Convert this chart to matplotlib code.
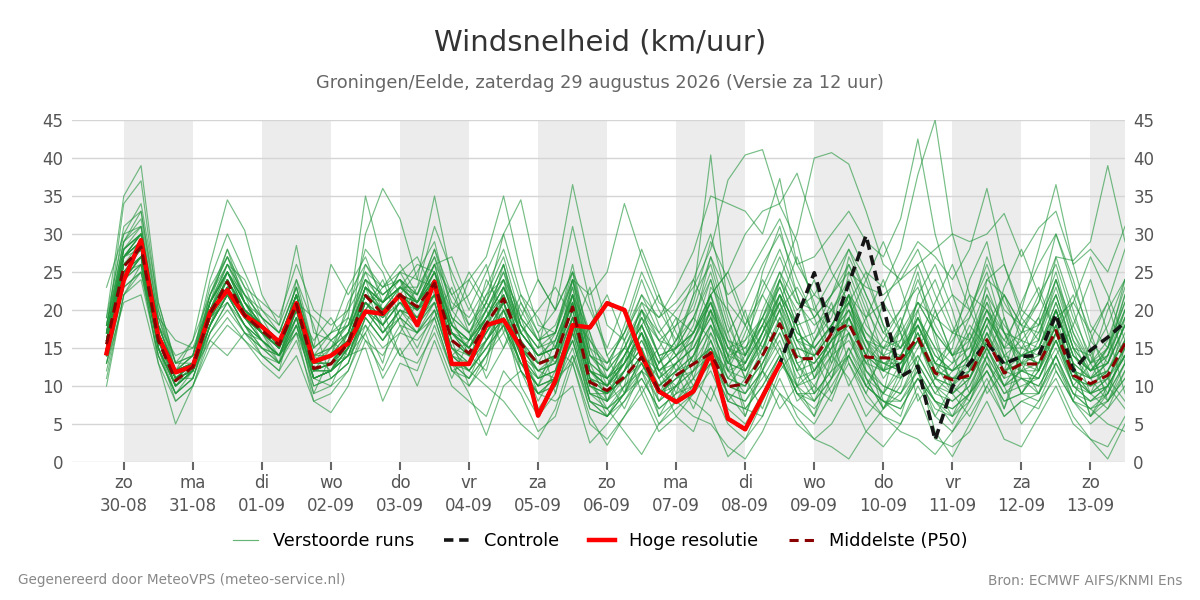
import numpy as np
import matplotlib
matplotlib.use("Agg")
import matplotlib.pyplot as plt
from matplotlib.lines import Line2D

# ---------------- data ----------------
# time axis: hours since 29-08 00:00, 6-hourly from 29-08 18:00 to 13-09 12:00
hours = np.arange(18, 18 + 6 * 60, 6)

day_names = ["zo", "ma", "di", "wo", "do", "vr", "za", "zo", "ma", "di", "wo", "do", "vr", "za", "zo"]
day_dates = ["30-08", "31-08", "01-09", "02-09", "03-09", "04-09", "05-09", "06-09",
             "07-09", "08-09", "09-09", "10-09", "11-09", "12-09", "13-09"]
shaded_days = [0, 2, 4, 6, 8, 10, 12, 14]

hres = [14.3, 23.9, 29.2, 16.5, 11.8, 12.6, 19.7, 22.6, 19.3, 17.8,
        15.8, 20.9, 13.2, 14.0, 15.6, 19.8, 19.5, 22.0, 18.0, 23.7,
        12.9, 12.9, 18.0, 18.7, 15.1, 6.1, 10.7, 18.0, 17.7, 20.9,
        20.0, 14.0, 9.3, 7.9, 9.3, 14.3, 5.7, 4.3, 8.6, 12.9]

control = [14.3, 23.9, 29.2, 16.5, 11.8, 12.6, 19.7, 22.6, 19.3, 17.8,
           15.8, 20.9, 13.2, 14.0, 15.6, 19.8, 19.5, 22.0, 18.0, 23.7,
           12.9, 12.9, 18.0, 18.7, 15.1, 6.1, 10.7, 18.0, 17.7, 20.9,
           20.0, 14.0, 9.3, 7.9, 9.3, 14.3, 5.7, 4.3, 8.6, 12.9,
           19.0, 24.9, 17.1, 23.5, 29.8, 20.5, 11.2, 12.6, 2.9, 9.9,
           13.0, 15.7, 12.9, 13.9, 14.0, 19.4, 12.0, 14.7, 16.4, 18.4]

median = [15.5, 25.7, 28.3, 16.0, 10.7, 12.5, 19.5, 23.7, 19.3, 17.3,
          15.4, 20.8, 12.3, 12.9, 15.6, 21.9, 19.5, 22.0, 20.4, 23.5,
          16.0, 14.3, 18.2, 21.5, 15.6, 12.9, 13.8, 20.4, 10.5, 9.4,
          11.2, 13.8, 9.4, 11.4, 12.9, 14.3, 9.9, 10.3, 14.0, 18.2,
          13.6, 13.6, 16.9, 18.2, 13.8, 13.7, 13.6, 16.4, 11.7, 10.8,
          11.4, 16.1, 11.7, 12.9, 12.9, 17.3, 11.4, 10.3, 11.4, 15.6]

m01 = [23, 30, 31, 18, 12, 13, 21, 25, 21, 18, 16, 22, 13, 15, 17, 24, 22, 24, 21, 26,
       18, 15, 20, 25, 17, 14, 15, 23, 12, 10, 13, 17, 8, 12, 16, 22, 12, 9, 14, 24,
       18, 11, 15, 22, 12, 9, 18, 25, 16, 10, 8, 14, 19, 11, 9, 17, 13, 6, 10, 19]
m02 = [10, 22, 25, 14, 9, 11, 18, 22, 18, 15, 14, 18, 10, 11, 13, 19, 16, 19, 17, 20,
       13, 12, 15, 18, 13, 10, 11, 17, 8, 7, 9, 14, 12, 8, 11, 18, 14, 7, 6, 12,
       15, 9, 12, 19, 15, 8, 6, 13, 20, 14, 9, 12, 7, 13, 18, 22, 15, 9, 7, 12]
m03 = [19, 35, 39, 21, 13, 14, 23, 27, 22, 19, 17, 23, 14, 14, 17, 23, 21, 23, 22, 27,
       19, 17, 22, 27, 19, 16, 17, 25, 14, 12, 15, 20, 16, 18, 20, 27, 22, 24, 28, 32,
       26, 27, 30, 33, 29, 27, 32, 42.5, 30, 22, 20, 26, 20, 18, 17, 22, 15, 14, 18, 24]
m04 = [17, 34, 37, 20, 12, 13, 22, 28, 23, 18, 15, 22, 13, 14, 16, 23, 20, 22, 20, 25,
       17, 14, 12, 20, 15, 9, 11, 24, 13, 8, 12, 15, 6, 10, 14, 20, 8, 11, 17, 21,
       13, 10, 8, 14, 19, 24, 17, 12, 8, 5, 9, 16, 22, 18, 12, 20, 14, 11, 15, 21]
m05 = [13, 21, 22, 13, 8, 10, 16, 19, 16, 14, 12, 16, 9, 10, 12, 18, 15, 17, 16, 19,
       12, 11, 14, 18, 12, 9, 10, 15, 7, 6, 8, 12, 10, 13, 9, 16, 11, 14, 19, 15,
       9, 6, 11, 17, 13, 16, 20, 23, 17, 9, 6, 10, 14, 9, 12, 19, 21, 17, 11, 8]
m06 = [14, 24, 26, 13, 5, 10, 17, 21, 17, 15, 13, 19, 11, 12, 14, 20, 18, 21, 18, 22,
       15, 13, 17, 20, 14, 11, 12, 18, 9, 8, 14, 18, 13, 16, 22, 26, 18, 13, 20, 25,
       19, 14, 9, 15, 11, 7, 10, 18, 13, 16, 20, 25, 17, 12, 16, 24, 18, 13, 9, 15]
m07 = [16, 27, 29, 19, 16, 15, 21, 25, 20, 18, 16, 21, 13, 14, 16, 22, 20, 22, 21, 24,
       17, 15, 19, 22, 17, 14, 15, 21, 11, 10, 16, 22, 17, 14, 10, 15, 12, 17, 23, 28,
       22, 16, 19, 26, 21, 14, 12, 20, 24, 18, 13, 19, 15, 21, 26, 30, 24, 16, 13, 20]
m08 = [18, 29, 32, 19, 13, 16, 26, 34.5, 30.5, 22, 18, 24, 15, 17, 18, 25, 23, 24, 22, 28,
       20, 17, 21, 26, 18, 15, 16, 22, 13, 11, 13, 17, 12, 14, 16, 20, 15, 16, 19, 23,
       17, 15, 18, 22, 19, 21, 25, 29, 27, 24, 28, 36, 26, 20, 18, 24, 17, 13, 15, 22]
m09 = [15, 24, 27, 15, 10, 12, 16, 14, 17, 16, 14, 17, 11, 12, 15, 20, 17, 20, 19, 21,
       14, 13, 16, 19, 14, 12, 13, 18, 10, 9, 11, 13, 9, 11, 13, 15, 10, 10, 13, 17,
       12, 13, 16, 18, 14, 12, 11, 14, 10, 9, 11, 15, 10, 12, 11, 16, 10, 9, 11, 14]
m10 = [17, 28, 30, 17, 11, 13, 21, 26, 22, 20, 18, 28.5, 17, 16, 18, 24, 21, 23, 23, 27,
       21, 19, 23, 28, 21, 16, 18, 24, 15, 13, 17, 22, 19, 21, 24, 30, 21, 18, 22, 27,
       21, 18, 20, 23, 16, 12, 14, 19, 15, 13, 15, 20, 16, 14, 13, 18, 12, 11, 13, 18]
m11 = [16, 26, 28, 17, 12, 13, 20, 24, 20, 17, 16, 21, 15, 26, 22, 26, 23, 25, 21, 24,
       17, 15, 18, 21, 16, 12, 14, 19, 10, 8, 10, 12, 8, 10, 12, 14, 9, 8, 12, 16,
       10, 11, 14, 16, 12, 10, 9, 12, 8, 7, 9, 13, 9, 11, 10, 14, 8, 7, 9, 13]
m12 = [14, 25, 27, 15, 9, 11, 18, 22, 18, 16, 13, 17, 8, 6.5, 10, 16, 14, 18, 17, 21,
       14, 12, 16, 20, 15, 13, 14, 22, 12, 11, 14, 18, 13, 16, 19, 24, 17, 21, 26, 30,
       24, 19, 22, 28, 24, 18, 15, 21, 17, 14, 16, 22, 18, 15, 14, 20, 14, 12, 15, 21]
m13 = [18, 28, 30, 17, 11, 13, 21, 26, 21, 18, 16, 22, 13, 14, 19, 35, 26, 22, 19, 24,
       17, 14, 18, 22, 16, 13, 14, 20, 11, 9, 12, 16, 11, 13, 15, 19, 14, 15, 19, 24,
       20, 22, 26, 30, 25, 23, 28, 37.8, 45, 30, 22, 20, 17, 14, 13, 18, 12, 10, 12, 17]
m14 = [16, 27, 29, 16, 11, 12, 19, 23, 19, 17, 15, 21, 12, 13, 16, 30, 36, 32, 24, 23,
       18, 16, 19, 21, 15, 12, 13, 19, 10, 9, 11, 14, 10, 12, 14, 18, 12, 13, 17, 22,
       16, 14, 17, 20, 16, 15, 17, 21, 19, 17, 19, 24, 22, 18, 21, 27, 26.5, 29, 39, 29]
m15 = [14, 24, 26, 15, 10, 12, 19, 22, 19, 16, 14, 18, 11, 12, 14, 15, 8, 13, 12, 18,
       12, 10, 14, 19, 13, 11, 12, 17, 9, 9, 12, 15, 9, 11, 13, 17, 11, 10, 15, 20,
       14, 13, 16, 19, 13, 12, 13, 17, 12, 11, 11, 17, 12, 13, 14, 19, 12, 11, 12, 16]
m16 = [15, 26, 28, 16, 11, 13, 20, 24, 20, 18, 16, 22, 13, 13, 17, 23, 21, 25, 24, 35,
       24, 18, 21, 26, 18, 14, 15, 22, 12, 10, 13, 17, 12, 14, 16, 21, 14, 13, 17, 22,
       16, 17, 22, 26, 20, 16, 15, 19, 14, 12, 14, 19, 13, 14, 15, 21, 14, 12, 13, 18]
m17 = [15, 25, 27, 16, 11, 12, 19, 23, 19, 17, 15, 20, 12, 12, 15, 21, 18, 21, 18, 21,
       13, 9, 3.5, 10, 12, 9, 11, 16, 8, 6, 9, 12, 6, 8, 6, 5, 2, 0.4, 4, 9,
       7, 5, 9, 13, 8, 6, 5, 10, 6, 4, 7, 11, 6, 8, 7, 12, 8, 5, 7, 10]
m18 = [16, 27, 29, 17, 11, 13, 20, 24, 20, 18, 16, 22, 13, 13, 16, 22, 20, 22, 21, 26,
       22, 24, 27, 35, 25, 18, 17, 24, 14, 11, 14, 18, 12, 14, 17, 22, 15, 13, 17, 21,
       15, 14, 17, 20, 14, 13, 12, 16, 11, 10, 13, 19, 16, 20, 28, 36.5, 26, 18, 15, 20]
m19 = [17, 27, 30, 18, 12, 13, 21, 25, 21, 18, 16, 21, 13, 14, 16, 22, 21, 23, 21, 25,
       18, 16, 21, 30, 34.5, 24, 20, 25, 16, 13, 15, 19, 14, 15, 17, 22, 16, 14, 18, 23,
       17, 15, 18, 22, 17, 14, 13, 17, 12, 11, 12, 17, 13, 12, 11, 16, 11, 9, 11, 15]
m20 = [14, 24, 27, 15, 10, 12, 18, 23, 19, 16, 14, 19, 11, 12, 14, 20, 18, 21, 19, 22,
       15, 12, 10, 8, 5, 3, 7, 14, 8, 6, 9, 13, 8, 10, 12, 16, 10, 9, 12, 17,
       11, 12, 15, 17, 11, 9, 8, 12, 4, 0.7, 5, 10, 6, 8, 9, 14, 9, 7, 8, 12]
m21 = [16, 27, 29, 17, 12, 13, 20, 25, 20, 18, 15, 21, 13, 14, 16, 22, 20, 23, 21, 24,
       17, 15, 19, 24, 18, 15, 24, 36.5, 26, 18, 16, 20, 14, 15, 17, 21, 15, 14, 19, 25,
       21, 20, 24, 28, 22, 17, 15, 18, 13, 11, 13, 18, 14, 16, 19, 25, 17, 12, 13, 18]
m22 = [15, 25, 27, 16, 11, 12, 19, 23, 19, 17, 15, 20, 12, 12, 15, 21, 19, 21, 20, 22,
       15, 14, 16, 19, 13, 9, 8, 10, 2.5, 5, 8, 11, 7, 9, 11, 14, 9, 8, 11, 15,
       10, 8, 11, 14, 9, 6, 4, 3, 1, 4, 8, 13, 9, 10, 11, 15, 10, 8, 9, 13]
m23 = [15, 26, 28, 16, 10, 12, 19, 24, 19, 17, 15, 21, 12, 13, 15, 21, 19, 22, 20, 23,
       16, 14, 17, 21, 15, 12, 11, 13, 6, 2.2, 6, 10, 5, 7, 9, 12, 7, 5, 9, 14,
       9, 7, 10, 14, 10, 8, 7, 11, 8, 6, 9, 14, 10, 12, 13, 18, 12, 9, 10, 14]
m24 = [17, 27, 29, 17, 11, 13, 20, 24, 20, 18, 16, 21, 13, 14, 16, 22, 20, 22, 21, 24,
       17, 16, 19, 23, 18, 15, 17, 24, 22, 25, 34, 27, 21, 19, 17, 22, 25, 30, 33, 34,
       38, 31, 25, 21, 17, 15, 14, 18, 13, 12, 14, 19, 15, 15, 16, 22, 15, 12, 14, 19]
m25 = [14, 25, 27, 15, 10, 12, 18, 22, 18, 16, 14, 19, 11, 12, 14, 20, 17, 20, 19, 22,
       14, 12, 15, 19, 13, 10, 11, 16, 9, 7, 4, 1, 5, 8, 10, 13, 8, 7, 10, 14,
       9, 8, 11, 15, 10, 8, 7, 11, 7, 6, 8, 12, 8, 9, 8, 11, 6, 3, 0.4, 5]
m26 = [16, 27, 29, 17, 11, 13, 20, 24, 20, 17, 15, 21, 12, 13, 16, 22, 20, 22, 20, 24,
       17, 15, 18, 22, 16, 13, 14, 20, 11, 10, 14, 19, 16, 15, 22, 40.4, 20, 14, 18, 24,
       30, 40, 40.7, 39.2, 33, 26, 24, 28, 22, 17, 16, 20, 14, 13, 12, 16, 11, 10, 12, 16]
m27 = [17, 28, 30, 18, 12, 14, 21, 25, 21, 18, 16, 22, 14, 15, 17, 23, 21, 23, 21, 25,
       19, 17, 20, 25, 19, 16, 17, 23, 14, 13, 17, 21, 19, 23, 27.7, 35, 34, 33, 30, 37.3,
       26, 22, 20, 24, 18, 15, 16, 21, 17, 14, 15, 21, 17, 16, 15, 20, 14, 12, 14, 19]
m28 = [15, 25, 28, 16, 10, 12, 19, 23, 19, 16, 14, 20, 12, 12, 15, 21, 18, 21, 19, 22,
       15, 13, 16, 20, 14, 11, 12, 18, 9, 8, 11, 14, 9, 10, 8, 6, 0.7, 3, 8, 13,
       10, 12, 16, 18, 13, 10, 9, 13, 9, 8, 10, 15, 11, 12, 12, 17, 11, 9, 10, 14]
m29 = [16, 26, 28, 16, 11, 13, 20, 24, 19, 17, 15, 21, 12, 13, 16, 22, 20, 22, 20, 24,
       17, 15, 19, 23, 17, 14, 15, 21, 12, 11, 15, 20, 17, 20, 23, 28, 37.1, 40.4, 41.1, 33.8,
       29, 20, 17, 21, 16, 13, 12, 16, 11, 9, 11, 16, 12, 11, 10, 14, 9, 8, 10, 14]
m30 = [14, 24, 27, 15, 10, 12, 18, 22, 18, 16, 14, 19, 11, 12, 14, 20, 17, 20, 18, 21,
       14, 12, 15, 18, 13, 10, 11, 16, 8, 7, 10, 13, 9, 11, 12, 15, 10, 9, 12, 9,
       5, 3, 2, 0.4, 4, 7, 9, 14, 10, 8, 10, 14, 10, 11, 11, 16, 10, 8, 10, 14]
m31 = [16, 28, 30, 18, 12, 13, 21, 25, 21, 18, 16, 22, 13, 14, 17, 23, 21, 23, 21, 25,
       18, 16, 19, 23, 17, 14, 15, 21, 13, 11, 13, 17, 13, 15, 17, 21, 16, 15, 18, 22,
       18, 19, 22, 25, 23, 22, 24, 26, 28, 30, 29, 30, 32.7, 27, 30.8, 33, 26, 28, 25, 31]
m32 = [15, 26, 28, 16, 11, 12, 19, 23, 19, 17, 15, 20, 12, 13, 15, 21, 19, 22, 20, 23,
       16, 14, 17, 21, 15, 12, 13, 19, 10, 9, 12, 15, 10, 12, 14, 18, 12, 11, 14, 19,
       14, 13, 16, 19, 14, 12, 13, 16, 11, 10, 12, 17, 12, 14, 15, 20, 13, 11, 12, 16]
m33 = [18, 29, 31, 18, 12, 14, 22, 26, 22, 19, 17, 23, 14, 15, 18, 24, 22, 24, 22, 26,
       18, 16, 20, 24, 17, 14, 16, 22, 12, 10, 13, 17, 11, 13, 15, 20, 13, 12, 15, 20,
       15, 14, 18, 21, 15, 13, 14, 18, 13, 12, 14, 20, 15, 17, 18, 24, 16, 13, 14, 20]
m34 = [13, 23, 25, 14, 9, 11, 17, 21, 17, 15, 13, 18, 10, 11, 13, 19, 16, 19, 17, 20,
       13, 11, 14, 17, 12, 9, 10, 14, 7, 6, 9, 11, 7, 9, 10, 13, 8, 7, 10, 14,
       9, 9, 12, 14, 10, 8, 8, 11, 8, 7, 9, 12, 8, 9, 9, 13, 8, 6, 8, 11]
m35 = [16, 26, 28, 16, 11, 12, 19, 23, 19, 17, 15, 21, 12, 13, 16, 22, 20, 22, 20, 24,
       16, 14, 17, 21, 15, 13, 14, 20, 11, 9, 11, 14, 10, 12, 13, 15, 11, 10, 13, 18,
       13, 14, 17, 19, 14, 13, 13, 16, 12, 11, 11, 16, 12, 13, 13, 17, 11, 10, 11, 15]
m36 = [17, 27, 30, 17, 12, 13, 21, 25, 20, 18, 16, 22, 13, 14, 16, 23, 20, 23, 21, 25,
       17, 15, 19, 23, 17, 14, 15, 21, 12, 10, 13, 16, 12, 13, 15, 19, 13, 12, 16, 21,
       16, 15, 18, 21, 16, 14, 15, 18, 14, 12, 13, 18, 13, 14, 15, 20, 13, 11, 13, 18]
m37 = [12, 22, 24, 14, 9, 12, 20, 26, 24, 19, 15, 19, 9, 14, 21, 25, 20, 14, 13, 17,
       11, 16, 24, 20, 14, 8, 12, 22, 17, 11, 7, 12, 15, 19, 11, 8, 14, 20, 12, 7,
       10, 16, 21, 13, 9, 15, 19, 12, 6, 10, 16, 21, 14, 9, 12, 18, 22, 15, 8, 11]
m38 = [18, 31, 33, 20, 13, 14, 24, 30, 25, 20, 17, 20, 16, 19, 15, 18, 13, 22, 25, 29,
       20, 22, 26, 17, 22, 19, 15, 13, 18, 22, 16, 9, 13, 18, 24, 19, 13, 16, 22, 18,
       12, 8, 13, 21, 25, 18, 11, 15, 19, 22, 16, 9, 12, 19, 23, 17, 10, 13, 20, 24]
m39 = [15, 25, 26, 15, 10, 13, 19, 21, 18, 14, 13, 24, 18, 11, 13, 20, 24, 18, 14, 19,
       23, 17, 11, 15, 21, 17, 9, 17, 23, 14, 9, 18, 22, 15, 19, 25, 17, 11, 7, 13,
       19, 24, 16, 10, 14, 21, 17, 8, 11, 17, 22, 14, 7, 15, 19, 12, 8, 16, 21, 13]
m40 = [16, 27, 30, 18, 14, 15, 18, 22, 18, 15, 14, 17, 14, 17, 19, 16, 12, 17, 21, 26,
       27, 21, 16, 21, 12, 7, 10, 19, 11, 6, 10, 20, 14, 8, 12, 23, 20, 14, 25, 31,
       22, 15, 11, 19, 14, 7, 11, 22, 26, 20, 12, 24, 26, 19, 16, 27, 20, 13, 16, 23]
m41 = [13, 23, 25, 16, 11, 12, 17, 20, 17, 14, 12, 21, 19, 16, 14, 17, 21, 24, 18, 22,
       16, 10, 13, 23, 19, 13, 17, 26, 15, 10, 12, 17, 11, 6, 9, 17, 13, 18, 24, 20,
       10, 6, 14, 25, 19, 12, 16, 20, 12, 15, 24, 29, 19, 13, 9, 14, 18, 24, 17, 9]
m42 = [19, 30, 34, 21, 13, 13, 22, 27, 23, 21, 19, 26, 20, 18, 20, 28, 25, 19, 23, 31,
       25, 20, 25, 30, 22, 17, 20, 31, 21, 14, 17, 24, 18, 14, 18, 27, 19, 12, 17, 24,
       18, 11, 17, 27, 22, 17, 20, 26, 20, 14, 19, 27, 21, 17, 21, 30, 23, 17, 21, 28]
m43 = [11, 22, 26, 15, 8, 10, 15, 18, 16, 13, 11, 14, 8, 9, 12, 17, 11, 15, 10, 16,
       10, 8, 6, 12, 9, 4, 6, 13, 5, 3, 6, 9, 4, 6, 4, 10, 5, 3, 6, 11,
       6, 3, 5, 9, 4, 2, 5, 9, 3, 2, 4, 8, 3, 2, 6, 10, 5, 3, 2, 6]
m44 = [17, 29, 33, 19, 12, 16, 22, 27, 21, 19, 17, 23, 15, 17, 23, 27, 21, 25, 27, 22,
       18, 24, 20, 15, 19, 24, 20, 25, 20, 15, 21, 28, 22, 17, 13, 22, 25, 19, 15, 21,
       27, 21, 14, 19, 24, 29, 23, 16, 21, 26, 20, 15, 23, 28, 22, 17, 21, 27, 22, 16]
m45 = [14, 24, 27, 17, 11, 11, 18, 25, 22, 17, 13, 18, 12, 15, 20, 24, 18, 14, 17, 24,
       19, 14, 18, 26, 16, 11, 14, 24, 17, 8, 12, 19, 14, 9, 16, 21, 14, 6, 12, 19,
       13, 9, 18, 22, 11, 7, 12, 19, 15, 10, 14, 22, 15, 9, 13, 20, 13, 6, 9, 16]
m46 = [16, 28, 31, 17, 10, 12, 20, 23, 20, 18, 15, 20, 13, 16, 18, 20, 23, 26, 22, 28,
       22, 18, 22, 24, 14, 10, 16, 22, 14, 12, 18, 25, 20, 16, 21, 29, 24, 18, 14, 22,
       18, 12, 16, 22, 16, 11, 14, 19, 13, 9, 12, 18, 22, 16, 12, 17, 12, 9, 14, 22]
m47 = [15, 26, 29, 16, 12, 13, 19, 24, 20, 16, 14, 20, 11, 10, 15, 23, 17, 19, 15, 20,
       13, 11, 16, 19, 10, 6, 9, 17, 12, 9, 13, 21, 16, 12, 7, 13, 9, 6, 13, 18,
       12, 16, 20, 17, 10, 14, 18, 13, 9, 12, 17, 13, 10, 14, 17, 23, 16, 11, 8, 13]
m48 = [17, 27, 28, 17, 12, 14, 21, 28, 21, 17, 15, 22, 14, 12, 17, 26, 22, 24, 20, 22,
       14, 16, 20, 24, 20, 16, 13, 19, 16, 12, 15, 13, 9, 13, 17, 24, 16, 11, 16, 20,
       23, 19, 13, 17, 12, 9, 12, 17, 11, 13, 18, 15, 11, 17, 22, 26, 19, 14, 10, 7]
m49 = [14, 25, 28, 16, 11, 12, 18, 22, 19, 18, 16, 22, 13, 13, 14, 19, 16, 20, 17, 19,
       12, 13, 19, 22, 17, 20, 23, 19, 11, 7, 9, 14, 11, 15, 19, 16, 10, 13, 18, 14,
       8, 10, 14, 11, 6, 9, 13, 16, 10, 6, 11, 15, 10, 5, 8, 13, 9, 7, 5, 4]
m50 = [16, 27, 30, 17, 11, 13, 20, 25, 21, 17, 14, 20, 11, 12, 16, 21, 18, 23, 26, 25,
       20, 25, 21, 18, 13, 10, 14, 21, 12, 10, 14, 18, 12, 10, 14, 20, 15, 12, 16, 22,
       16, 12, 15, 20, 15, 12, 18, 24, 18, 14, 17, 23, 17, 13, 15, 21, 15, 12, 15, 24]

members = [m01, m02, m03, m04, m05, m06, m07, m08, m09, m10, m11, m12, m13, m14, m15, m16, m17,
           m18, m19, m20, m21, m22, m23, m24, m25, m26, m27, m28, m29, m30, m31, m32, m33, m34,
           m35, m36, m37, m38, m39, m40, m41, m42, m43, m44, m45, m46, m47, m48, m49, m50]

title = "Windsnelheid (km/uur)"
subtitle = "Groningen/Eelde, zaterdag 29 augustus 2026 (Versie za 12 uur)"
footer_left = "Gegenereerd door MeteoVPS (meteo-service.nl)"
footer_right = "Bron: ECMWF AIFS/KNMI Ens"
legend_labels = ["Verstoorde runs", "Controle", "Hoge resolutie", "Middelste (P50)"]

# ---------------- figure ----------------
plt.rcParams['font.family'] = ['DejaVu Sans']
fig = plt.figure(figsize=(12, 6), dpi=100)
ax = fig.add_axes([0.06, 0.23, 0.8775, 0.57])

ens_color = "#22963c"
for m in members:
    ax.plot(hours, m, color=ens_color, lw=0.85, alpha=0.62, zorder=2)

ax.plot(hours[:len(control)], control, color="#151515", lw=2.6, ls=(0, (2.8, 1.6)), zorder=4)
ax.plot(hours[:len(hres)], hres, color="#ff0000", lw=3.2, zorder=5)
ax.plot(hours, median, color="#8b0000", lw=2.2, ls=(0, (3.4, 1.9)), zorder=6)

tick_hours = [24 * (k + 1) for k in range(len(day_names))]
for k in shaded_days:
    ax.axvspan(tick_hours[k], tick_hours[k] + 24, color="#ececec", zorder=0, lw=0)

ax.set_xlim(6, hours[-1])
ax.set_ylim(0, 45)
ax.set_yticks(range(0, 46, 5))
ax.grid(axis="y", color="#d5d5d5", lw=1, zorder=1)
ax.set_axisbelow(True)
for s in ax.spines.values():
    s.set_visible(False)

ax.set_xticks(tick_hours)
ax.set_xticklabels([f"{n}\n{d}" for n, d in zip(day_names, day_dates)], fontsize=12, color="#555555",
                   linespacing=1.35)
ax.tick_params(axis="x", length=6, width=1.5, color="#666666", pad=3)
ax.tick_params(axis="y", length=0, labelsize=12, labelcolor="#555555", pad=6,
               labelright=True, right=False)

fig.text(0.5, 0.93, title, ha="center", va="center", fontsize=21, color="#333333")
fig.text(0.5, 0.861, subtitle, ha="center", va="center", fontsize=12.8, color="#666666")
fig.text(0.015, 0.033, footer_left, ha="left", va="center", fontsize=9.8, color="#888888")
fig.text(0.985, 0.033, footer_right, ha="right", va="center", fontsize=9.8, color="#888888")

handles = [
    Line2D([], [], color=ens_color, lw=0.85, alpha=0.7),
    Line2D([], [], color="#151515", lw=2.6, ls=(0, (2.6, 1.6))),
    Line2D([], [], color="#ff0000", lw=3.2),
    Line2D([], [], color="#8b0000", lw=2.2, ls=(0, (3.0, 2.0))),
]
fig.legend(handles, legend_labels, loc="center", bbox_to_anchor=(0.5, 0.098), ncol=4, frameon=False,
           fontsize=12.8, handlelength=1.45, columnspacing=1.7, handletextpad=0.8)

fig.savefig("out.png", dpi=100)
